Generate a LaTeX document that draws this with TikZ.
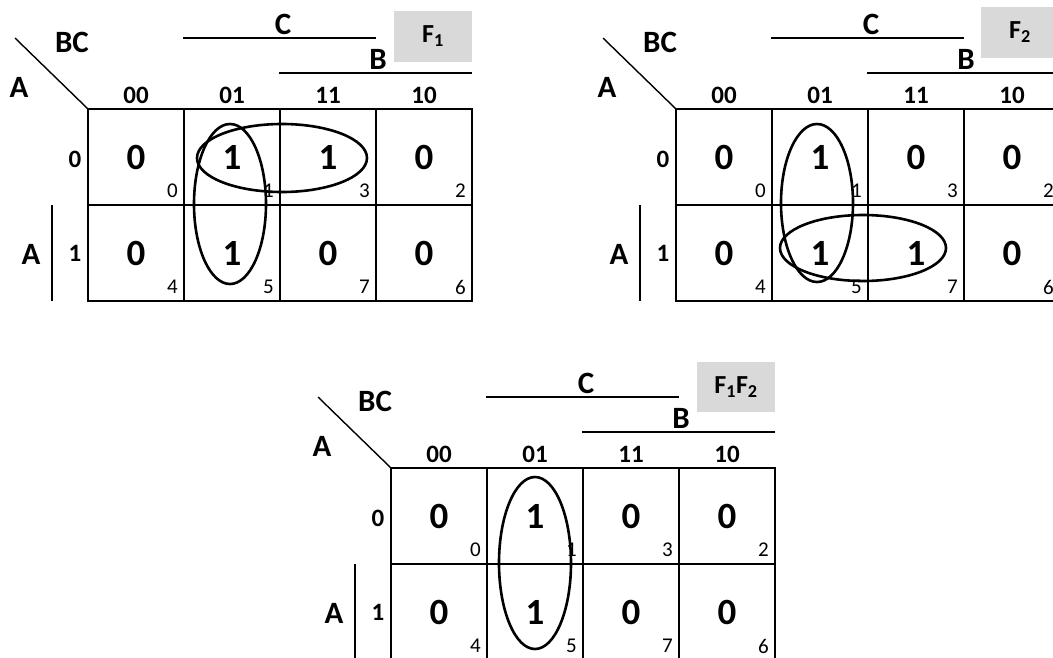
\documentclass[tikz,border=0pt]{standalone}
\usepackage{fontspec}
\setmainfont{Carlito}
\tikzset{
  gridline/.style={line width=2pt},
  thinline/.style={line width=1.4pt},
  loopline/.style={line width=2.6pt},
  lbl/.style={font=\fontsize{31}{31}\selectfont\bfseries, inner sep=0pt},
  hdr/.style={font=\fontsize{25}{25}\selectfont\bfseries, inner sep=0pt},
  val/.style={font=\fontsize{37}{37}\selectfont\bfseries, inner sep=0pt},
  idx/.style={font=\fontsize{21}{21}\selectfont, inner sep=0pt, anchor=east},
  fbox/.style={fill=black!15, minimum width=78pt, minimum height=51pt, inner sep=0pt, font=\fontsize{26}{26}\selectfont\bfseries},
}
% #1 prefix, #2..#9 cell values in order m0 m1 m3 m2 m4 m5 m7 m6
\newcommand\kmapgrid[9]{%
  \coordinate (#1-d1) at (15,38); \coordinate (#1-d2) at (88,109);
  \draw[thinline] (#1-d1) -- (#1-d2);
  \node[lbl] (#1-bc) at (72,42) {BC};
  \node[lbl] (#1-a) at (19,87) {A};
  \node[lbl] (#1-c) at (283,24) {C};
  \coordinate (#1-cl) at (183,38); \coordinate (#1-cr) at (376,38);
  \draw[thinline] (#1-cl) -- (#1-cr);
  \node[lbl] (#1-b) at (378,59) {B};
  \coordinate (#1-bl) at (279,73); \coordinate (#1-br) at (472,73);
  \draw[thinline] (#1-bl) -- (#1-br);
  \node[hdr] (#1-h00) at (136,95) {00};
  \node[hdr] (#1-h01) at (232,95) {01};
  \node[hdr] (#1-h11) at (328,95) {11};
  \node[hdr] (#1-h10) at (424,95) {10};
  \node[hdr] (#1-r0) at (75,159) {0};
  \node[hdr] (#1-r1) at (75,253) {1};
  \node[lbl] (#1-aa) at (31,254) {A};
  \coordinate (#1-al) at (52,205); \coordinate (#1-al2) at (52,301);
  \draw[thinline] (#1-al) -- (#1-al2);
  \draw[gridline] (88,109) rectangle (472,301);
  \draw[gridline] (88,205) -- (472,205);
  \draw[gridline] (184,109) -- (184,301);
  \draw[gridline] (280,109) -- (280,301);
  \draw[gridline] (376,109) -- (376,301);
  \node[val] (#1-v0) at (136,157) {#2};
  \node[val] (#1-v1) at (232,157) {#3};
  \node[val] (#1-v3) at (328,157) {#4};
  \node[val] (#1-v2) at (424,157) {#5};
  \node[val] (#1-v4) at (136,253) {#6};
  \node[val] (#1-v5) at (232,253) {#7};
  \node[val] (#1-v7) at (328,253) {#8};
  \node[val] (#1-v6) at (424,253) {#9};
  \node[idx] (#1-i0) at (178,191) {0};
  \node[idx] (#1-i1) at (274,191) {1};
  \node[idx] (#1-i3) at (370,191) {3};
  \node[idx] (#1-i2) at (466,191) {2};
  \node[idx] (#1-i4) at (178,287) {4};
  \node[idx] (#1-i5) at (274,287) {5};
  \node[idx] (#1-i7) at (370,287) {7};
  \node[idx] (#1-i6) at (466,287) {6};
}
\begin{document}
\begin{tikzpicture}[x=1pt,y=-1pt]
  \useasboundingbox (0,0) rectangle (1053,657);
  \clip (0,0) rectangle (1053,657);
  % Map F1
  \begin{scope}
    \kmapgrid{m1}{0}{1}{1}{0}{0}{1}{0}{0}
    \node[fbox] (m1-f) at (433,36) {F\textsubscript{1}};
    \draw[loopline] (230,204) ellipse [x radius=36, y radius=80];
    \draw[loopline] (282,158) ellipse [x radius=85, y radius=34];
  \end{scope}
  % Map F2
  \begin{scope}[shift={(588,0)}]
    \kmapgrid{m2}{0}{1}{0}{0}{0}{1}{1}{0}
    \node[fbox] (m2-f) at (432,32) {F\textsubscript{2}};
    \draw[loopline] (229,203) ellipse [x radius=36, y radius=79];
    \draw[loopline] (275,248) ellipse [x radius=83, y radius=33];
  \end{scope}
  % Map F1F2
  \begin{scope}[shift={(303,359)}]
    \kmapgrid{m3}{0}{1}{0}{0}{0}{1}{0}{0}
    \node[fbox, minimum height=50pt] (m3-f) at (433,28) {F\textsubscript{1}F\textsubscript{2}};
    \draw[loopline] (232,204) ellipse [x radius=36, y radius=86];
  \end{scope}
\end{tikzpicture}
\end{document}
